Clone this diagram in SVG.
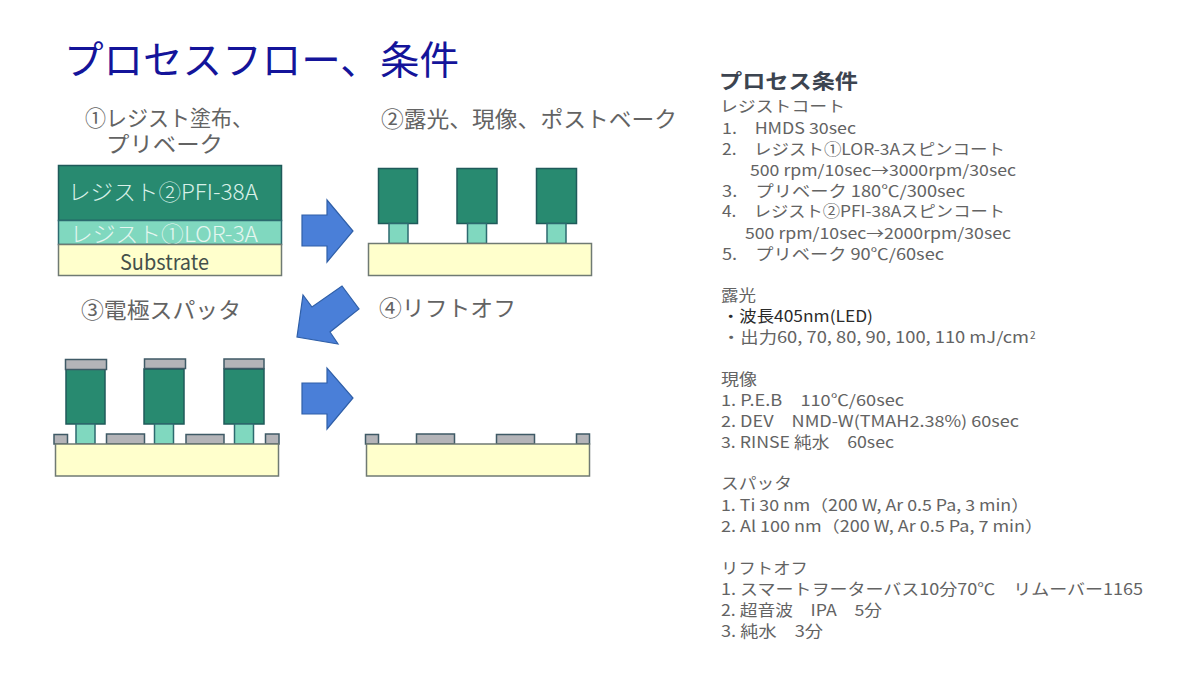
<svg xmlns="http://www.w3.org/2000/svg" width="1200" height="675" viewBox="0 0 1200 675">
<style>
text{font-family:"Noto Sans CJK JP","Noto Sans",sans-serif;font-weight:400;fill:#636363;}
.t{font-size:22px;}
.c{font-size:15.5px;}
.sub{fill:#ffffcc;stroke:#6f7a73;stroke-width:1.5;}
.dk{fill:#288a70;stroke:#1f5a5a;stroke-width:1.5;}
.lt{fill:#80d8bf;stroke:#2c6a6f;stroke-width:1.5;}
.gr{fill:#b4b4b8;stroke:#3f5a66;stroke-width:1.5;}
.ar{fill:#4a7fd8;stroke:#2f5fa8;stroke-width:1.2;}
</style>
<rect width="1200" height="675" fill="#ffffff"/>
<text x="64" y="74" font-size="39" style="fill:#14149a" textLength="395" lengthAdjust="spacingAndGlyphs">プロセスフロー、条件</text>
<g id="labels">
<text class="t"><tspan x="85" y="126" textLength="168" lengthAdjust="spacingAndGlyphs">①レジスト塗布、</tspan><tspan x="106" y="152" textLength="117" lengthAdjust="spacingAndGlyphs">プリベーク</tspan></text>
<text class="t" x="381" y="127" textLength="296" lengthAdjust="spacingAndGlyphs">②露光、現像、ポストベーク</text>
<text class="t" x="81" y="318" textLength="160" lengthAdjust="spacingAndGlyphs">③電極スパッタ</text>
<text class="t" x="379" y="316" textLength="137" lengthAdjust="spacingAndGlyphs">④リフトオフ</text>
</g>
<g id="step1">
<rect class="dk" x="58.500" y="165.500" width="223" height="55"/>
<rect class="lt" x="58.500" y="220.500" width="223" height="24"/>
<text x="68" y="200" font-size="22" style="font-weight:300;fill:#d8f0e8" textLength="190" lengthAdjust="spacingAndGlyphs">レジスト②PFI-38A</text>
<text x="70" y="242" font-size="22" style="font-weight:300;fill:#e4f6f0" textLength="188" lengthAdjust="spacingAndGlyphs">レジスト①LOR-3A</text>
<rect class="sub" x="58.500" y="244.500" width="223" height="31"/>
<text x="120" y="270" font-size="21" style="fill:#44504a" textLength="89" lengthAdjust="spacingAndGlyphs">Substrate</text>
</g>
<g id="step2">
<rect class="dk" x="378.500" y="168.500" width="39" height="55"/>
<rect class="dk" x="457" y="168.500" width="40" height="55"/>
<rect class="dk" x="536.500" y="168.500" width="40" height="55"/>
<rect class="lt" x="389" y="223.500" width="19" height="20"/>
<rect class="lt" x="467.500" y="223.500" width="19" height="20"/>
<rect class="lt" x="547" y="223.500" width="19" height="20"/>
<rect class="sub" x="368.500" y="243.500" width="223" height="32"/>
</g>
<g id="step3">
<rect class="dk" x="66" y="369" width="39" height="55"/>
<rect class="dk" x="144" y="369" width="40" height="55"/>
<rect class="dk" x="224" y="369" width="40" height="55"/>
<rect class="gr" x="65.500" y="359.500" width="41" height="10"/>
<rect class="gr" x="144.500" y="359" width="41" height="9.500"/>
<rect class="gr" x="224" y="359" width="40" height="9.500"/>
<rect class="lt" x="76" y="424" width="19" height="20"/>
<rect class="lt" x="154.500" y="424" width="19" height="20"/>
<rect class="lt" x="234.500" y="424" width="19" height="20"/>
<rect class="gr" x="54" y="434.500" width="13.500" height="9.500"/>
<rect class="gr" x="106.500" y="434" width="38" height="10"/>
<rect class="gr" x="186" y="434.500" width="38" height="9.500"/>
<rect class="gr" x="265.500" y="434" width="13.500" height="10"/>
<rect class="sub" x="55.500" y="444" width="223" height="32"/>
</g>
<g id="step4">
<rect class="gr" x="365.500" y="434.500" width="13" height="9.500"/>
<rect class="gr" x="416.500" y="434" width="38" height="10"/>
<rect class="gr" x="496.500" y="434.500" width="38" height="9.500"/>
<rect class="gr" x="576.500" y="434" width="13" height="10"/>
<rect class="sub" x="366.500" y="444" width="223" height="32"/>
</g>
<g id="connectors">
<polygon class="ar" points="302,215 327,215 327,200 353,231 327,262 327,246 302,246"/>
<polygon class="ar" points="297,337 303,295 312,307 342,286 359,309 330,332 338,344"/>
<polygon class="ar" points="302,383 327,383 327,368 353,398 327,429 327,414 302,414"/>
</g>
<g id="conditions">
<text x="719" y="89" font-size="20.500" style="font-weight:700;fill:#3c4450" textLength="139" lengthAdjust="spacingAndGlyphs">プロセス条件</text>
<text class="c" x="720" y="112" textLength="125" lengthAdjust="spacingAndGlyphs">レジストコート</text>
<text class="c" x="722" y="134" textLength="134" lengthAdjust="spacingAndGlyphs">1.　HMDS 30sec</text>
<text class="c" x="722" y="155" textLength="283" lengthAdjust="spacingAndGlyphs">2.　レジスト①LOR-3Aスピンコート</text>
<text class="c" x="750" y="176" textLength="266" lengthAdjust="spacingAndGlyphs">500 rpm/10sec→3000rpm/30sec</text>
<text class="c" x="722" y="197" textLength="243" lengthAdjust="spacingAndGlyphs">3.　プリベーク 180℃/300sec</text>
<text class="c" x="722" y="217" textLength="283" lengthAdjust="spacingAndGlyphs">4.　レジスト②PFI-38Aスピンコート</text>
<text class="c" x="745" y="239" textLength="266" lengthAdjust="spacingAndGlyphs">500 rpm/10sec→2000rpm/30sec</text>
<text class="c" x="722" y="260" textLength="222" lengthAdjust="spacingAndGlyphs">5.　プリベーク 90℃/60sec</text>
<text class="c" x="721" y="301" textLength="35" lengthAdjust="spacingAndGlyphs">露光</text>
<text class="c" x="722" y="322" style="fill:#2a2a2a" textLength="151" lengthAdjust="spacingAndGlyphs">・波長405nm(LED)</text>
<text class="c" x="722" y="343" textLength="307" lengthAdjust="spacingAndGlyphs">・出力60, 70, 80, 90, 100, 110 mJ/cm</text>
<text x="1030" y="339" font-size="10">2</text>
<text class="c" x="721" y="385" textLength="36" lengthAdjust="spacingAndGlyphs">現像</text>
<text class="c" x="721" y="406" textLength="183" lengthAdjust="spacingAndGlyphs">1. P.E.B　110℃/60sec</text>
<text class="c" x="721" y="427" textLength="298" lengthAdjust="spacingAndGlyphs">2. DEV　NMD-W(TMAH2.38%) 60sec</text>
<text class="c" x="721" y="448" textLength="173" lengthAdjust="spacingAndGlyphs">3. RINSE 純水　60sec</text>
<text class="c" x="721" y="489" textLength="71" lengthAdjust="spacingAndGlyphs">スパッタ</text>
<text class="c" x="721" y="511" textLength="308" lengthAdjust="spacingAndGlyphs">1. Ti 30 nm（200 W, Ar 0.5 Pa, 3 min）</text>
<text class="c" x="721" y="532" textLength="322" lengthAdjust="spacingAndGlyphs">2. Al 100 nm（200 W, Ar 0.5 Pa, 7 min）</text>
<text class="c" x="721" y="574" textLength="87" lengthAdjust="spacingAndGlyphs">リフトオフ</text>
<text class="c" x="721" y="595" textLength="422" lengthAdjust="spacingAndGlyphs">1. スマートヲーターバス10分70℃　リムーバー1165</text>
<text class="c" x="721" y="616" textLength="161" lengthAdjust="spacingAndGlyphs">2. 超音波　IPA　5分</text>
<text class="c" x="721" y="637" textLength="102" lengthAdjust="spacingAndGlyphs">3. 純水　3分</text>
</g>
</svg>
